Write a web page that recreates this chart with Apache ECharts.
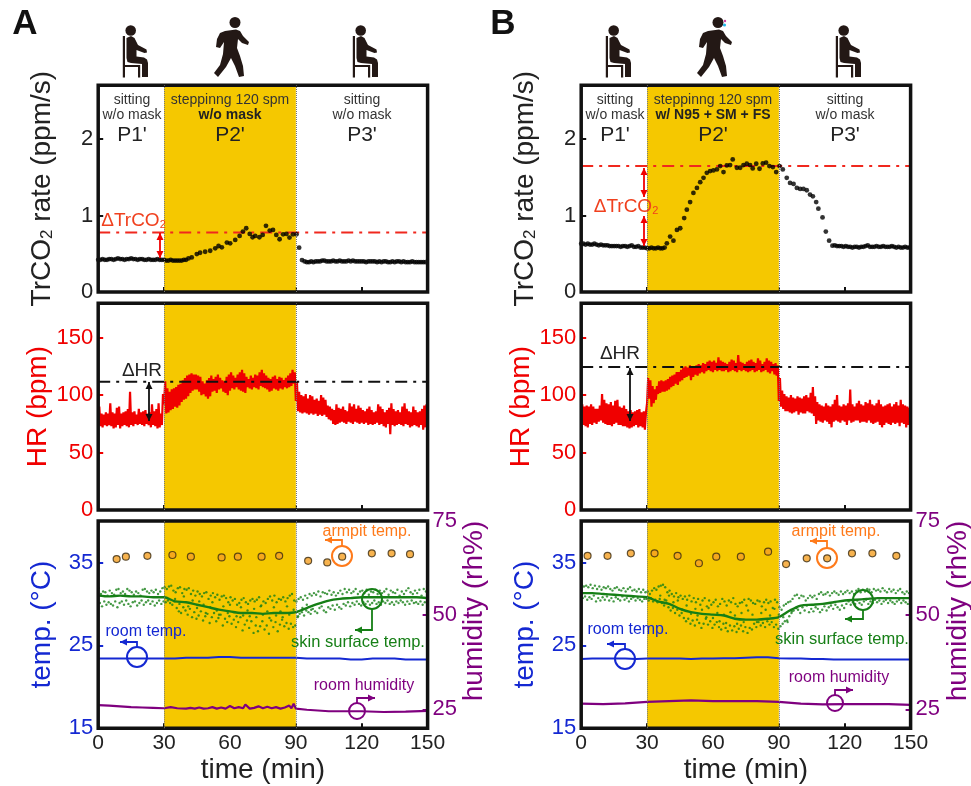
<!DOCTYPE html>
<html><head><meta charset="utf-8">
<style>html,body{margin:0;padding:0;background:#fff}#c{width:971px;height:786px}</style>
<script src="https://cdn.jsdelivr.net/npm/echarts@6/dist/echarts.min.js"></script>
</head><body><div id="c"></div>
<script>
// ---------- tick labels ----------
const timeTicks=[0,30,60,90,120,150];
const co2Ticks=[0,1,2];
const hrTicks=[0,50,100,150];
const tempTicks=[15,25,35];
const humTicks=[25,50,75];
// ---------- TrCO2 rate ----------
const co2StartA=[.42,.42,.43,.42,.42,.43,.43,.42,.43,.44,.43,.43,.42,.43,.43,.44,.43,.43,.42,.43,.43,.42,.42,.43,.42,.42,.42,.43,.42,.42,.42,.41,.41,.42,.41,.41,.41,.41,.41,.42,.42];
const co2MidA=[[41.1,.439],[42.6,.452],[44.9,.496],[46.4,.513],[48.7,.526],[51,.539],[53.3,.57],[54.8,.601],[56.3,.583],[58.6,.645],[60.1,.636],[62.4,.68],[64.4,.732],[65.9,.789],[67.4,.833],[69,.759],[70.3,.715],[71.5,.732],[73.4,.715],[74.9,.746],[76.4,.864],[78.1,.803],[79.6,.811],[81.1,.746],[82.6,.689],[84.2,.754],[85.7,.759],[87.1,.711],[88.7,.754],[90.3,.754],[91.5,.579],[92.8,.417]];
const co2EndA=[.40,.39,.39,.40,.39,.40,.40,.40,.41,.41,.40,.40,.40,.41,.40,.40,.41,.40,.40,.40,.41,.40,.41,.40,.40,.40,.40,.40,.39,.40,.40,.40,.40,.39,.40,.39,.40,.40,.39,.39,.40,.39,.40,.40,.39,.40,.39,.39,.39,.40,.39,.39,.39,.39,.39,.39];
const co2StartB=[.63,.63,.62,.63,.62,.62,.63,.62,.61,.62,.61,.61,.61,.60,.60,.60,.60,.60,.59,.60,.60,.59,.60,.61,.59,.59,.60,.58,.58,.58,.57,.57,.58,.57,.57,.58,.57,.57,.58];
const co2MidB=[[39,.636],[40.5,.724],[42,.671],[43.6,.811],[45.1,.833],[46.9,.965],[48.1,1.075],[49.6,1.175],[51.1,1.294],[52.7,1.36],[54.2,1.434],[55.7,1.491],[57.2,1.557],[58.7,1.579],[60.2,1.588],[61.8,1.601],[63.3,1.645],[64.8,1.566],[66.3,1.654],[67.8,1.658],[69,1.732],[70.9,1.623],[72.4,1.623],[73.9,1.658],[75.4,1.675],[76.9,1.658],[78.1,1.614],[79.7,1.675],[81.2,1.61],[82.7,1.68],[84.2,1.689],[85.7,1.645],[87.3,1.632],[88.8,1.566],[90.3,1.645],[91.8,1.601],[93.6,1.491],[95.1,1.425],[96.7,1.412],[98.2,1.36],[99.7,1.346],[101.2,1.346],[102.7,1.329],[104.2,1.272],[105.5,1.25],[107,1.175],[108,1.088],[109.9,.974],[111.4,.789],[112.9,.671],[114.4,.605]];
const co2EndB=[.61,.60,.60,.60,.59,.60,.59,.59,.58,.59,.59,.58,.59,.59,.60,.61,.59,.59,.59,.60,.59,.59,.60,.59,.59,.59,.60,.59,.58,.59,.58,.58,.59,.58,.58];
const co2Delta=[.776,1.645];
// ---------- heart rate: lowest and highest reading of each minute ----------
const hrHiA=[90,84,83,85,84,93,85,84,89,90,84,85,86,88,103,85,86,83,88,85,86,87,84,85,92,86,88,93,84,101,
112,106,103,105,106,107,109,110,113,115,117,118,119,118,118,
117,116,112,110,113,115,117,114,116,118,115,113,112,116,118,120,117,115,118,120,122,119,116,114,117,115,118,117,120,122,119,117,115,114,116,117,114,116,115,113,115,117,119,122,120,
112,103,100,99,101,97,100,99,96,97,95,100,98,96,91,90,88,87,92,89,88,90,87,86,93,90,92,88,91,89,87,86,88,90,87,85,86,92,90,88,85,87,89,93,88,86,87,85,90,93,88,86,85,90,87,85,86,88,91,92];
const hrLoA=[74,73,72,74,73,74,73,71,72,74,71,73,74,73,72,74,73,75,74,75,74,73,75,74,72,74,73,71,72,74,
92,84,85,87,88,90,89,91,94,96,97,99,102,104,105,
105,103,100,101,99,97,99,103,104,102,105,106,103,102,100,104,106,105,107,105,104,103,102,107,106,105,107,106,105,108,107,106,105,103,104,106,105,104,106,105,107,106,107,108,110,
95,86,85,84,85,84,83,84,83,84,82,83,82,83,81,79,78,75,74,75,76,77,76,75,77,76,75,77,76,75,76,75,76,74,75,74,75,76,74,75,73,72,75,66,74,73,74,75,74,73,75,74,72,73,74,73,72,74,70,72];
const hrHiB=[92,90,91,90,92,90,88,88,91,101,96,93,92,94,91,95,96,90,89,91,88,86,87,85,86,87,88,85,86,85,
115,113,108,105,108,112,113,112,113,114,116,117,118,120,120,
122,124,125,124,126,125,124,126,127,126,128,127,129,130,129,130,128,133,130,129,128,127,129,131,130,128,135,129,128,127,129,130,131,129,128,132,130,127,129,132,130,129,127,128,126,
115,104,101,99,98,100,98,97,99,98,97,99,100,98,102,107,99,94,92,91,90,93,91,90,92,96,100,91,90,92,91,93,105,92,90,93,95,92,91,94,93,96,92,91,93,96,92,90,91,92,93,90,92,94,91,96,92,91,90,89];
const hrLoB=[72,74,73,72,75,74,76,75,77,78,76,75,74,74,73,75,76,74,74,73,73,72,71,72,73,74,72,73,72,70,
93,97,90,93,96,101,102,103,103,104,105,107,108,110,109,
112,113,115,116,117,113,116,118,117,119,120,119,121,122,121,120,122,121,122,121,121,122,120,121,122,121,120,122,121,122,121,120,121,122,120,121,122,120,121,122,120,119,121,118,117,
95,90,88,86,86,85,84,85,86,83,85,84,84,86,85,84,82,75,78,77,76,78,77,75,72,77,78,77,76,78,77,74,78,76,77,78,78,76,77,77,76,78,76,75,76,77,74,72,74,76,75,74,76,75,76,73,76,75,72,74];
const hrDelta=[111.6,124.6];
// ---------- armpit temperature ----------
const armpitA=[[8.4,35.4],[12.6,35.7],[22.4,35.8],[33.8,35.9],[42.2,35.7],[56.2,35.6],[63.6,35.7],[74.4,35.7],[82.4,35.8],[95.6,35.2],[104.3,35],[111.1,35.7],[124.6,36.1],[133.6,36.1],[142,36]];
const armpitB=[[2.9,35.8],[12,35.8],[22.6,36.1],[33.4,36.1],[43.9,35.8],[53.6,34.9],[61.5,35.7],[72.7,35.7],[85.1,36.3],[93.3,34.8],[102.7,35.5],[112,35.5],[123.3,36.1],[132.6,36.1],[143.5,35.8]];
// ---------- skin surface temperature: scatter per minute, core every 5 min ----------
const skinHiA=[31.9,31.2,31.5,31.4,31,31.6,31.3,31.1,31.7,31.8,31.3,31.5,31.2,31.8,31.6,31.4,31.1,31.5,31.3,31,31.7,31.8,31.5,31.3,31.6,31.4,31.7,31.2,31.5,31.9,
32,31.8,32.1,32.2,31.6,31.4,31.9,32,31.3,31.8,31.7,31.9,31.2,31.6,31,31.5,31.2,30.9,31.3,31.4,30.6,31,31.3,30.8,31.1,30.5,30.9,31,30.7,30.2,
30.8,30.4,30.6,29.9,30.1,30.5,30.7,30.2,30,30.4,30.6,30.3,30.5,30.8,29.8,30.3,30.1,30.6,30.9,30.4,31,30.2,30.6,30.5,30.8,30.3,30.7,31,31.2,30.4,
30.3,30.6,30.8,30.5,31,30.7,31.2,31,31.3,31.1,31.5,30.9,31.4,31.3,31.2,31.6,31.1,31.4,31,31.3,31.6,31.2,31.8,31.4,31.7,31.3,31.5,31.8,31.2,31.5,
31.6,31.3,31.7,31.1,31.5,31.4,31.7,31.2,31.6,31.3,31.5,31.8,31.1,31.6,31.4,31.3,31.7,31,31.5,31.2,31.6,31.9,31.4,31.2,31.6,31.3,31.7,31,31.8,31.5];
const skinLoA=[30.1,29.7,30.3,29.9,30.2,30,29.8,30.3,29.6,30.1,30.3,29.9,30.4,30,29.7,30.2,30.3,29.8,30.1,30.4,29.9,30.2,30.4,30,30.3,29.8,30.1,30.4,30,30.3,
30.2,30.4,30.1,29.9,30.3,29.5,29.1,28.9,29.6,29.2,28.7,29.4,28.4,29,28.2,28.6,29.1,28,28.5,28.8,27.7,28.4,28.9,27.9,28.3,28.7,27.4,28.2,27.8,28.5,
27.6,28.1,27.2,27.8,28.4,26.8,27.5,28,27.1,27.9,26.5,27.4,26.7,27.3,27.9,26.9,27.4,26.4,28,27.2,27.8,26.7,27.5,28.1,27.3,27.7,27,27.6,27.2,27.4,
28.4,28.8,29,28.6,29.2,29,28.8,29.4,29.1,28.9,29.5,29.7,29.2,29,29.6,29.4,29.8,29.3,29.9,29.6,29.4,30,29.8,30.2,29.7,30.1,29.9,30.3,30,29.8,
30.2,30,30.3,29.9,30.1,30.4,30,30.2,29.9,30.3,30.1,30.4,30,30.2,29.9,30.3,30.1,30.4,30.2,29.9,30.3,30,30.4,30.1,30.2,30,30.3,29.9,30.2,30.1];
const skinMidA=[[35,30.6],[37,30],[39,30.9],[41,29.7],[43,30.4],[45,29.5],[46,30.3],[48,29.9],[49,28.9],[51,29.6],[52,30.2],[54,29.2],[55,28.7],[57,29.7],[59,28.9],[60,29.9],[62,29],[63,28.5],[65,29.6],[66,28.6],[68,29.2],[69,28.5],[71,29.4],[72,28.4],[74,29.7],[75,28.7],[77,29.1],[78,28.3],[80,29.6],[81,28.6],[83,29.1],[84,28.4],[86,29.7],[87,28.7],[89,29.3],[91,28.5],[93,29.5],[95,29.9],[97,29.3]];
const skinCoreA=[31,30.9,31,30.9,30.9,30.8,30.8,30.3,30.2,29.9,29.6,29.3,29.1,28.9,28.9,28.8,28.9,28.9,29,29.5,30,30.4,30.6,30.7,30.8,30.8,30.8,30.8,30.8,30.8,30.7];
const skinHiB=[32.3,32.1,32.2,32,32.3,31.9,32.2,31.8,32.1,31.7,32,31.9,32.1,31.8,31.6,31.9,32,31.7,31.6,31.9,31.5,31.8,32,31.6,31.7,31.5,31.8,31.4,31.7,31.4,
31.5,31.2,31.6,31.9,31.7,32.1,32.2,32.3,32,31.4,31.6,31.2,30.9,31.3,30.8,31,30.6,30.9,30.5,31,30.3,30.7,30.2,30.6,29.9,30.4,30.7,29.7,30.4,29.9,
30.2,30.5,29.7,30,30.6,30.3,29.8,30.4,30.2,30.7,30,29.7,30.1,30.2,30.5,29.8,30.6,30.4,30.1,30,30.4,30.3,29.7,30.2,30.5,30.1,30.3,29.5,30.5,30.2,
29.6,29.3,29.8,30,30.2,30.3,30.6,31,31.1,30.7,31,30.9,30.4,30.7,31,30.8,31,30.6,31.2,31.4,31.1,31.2,31.4,31,31.3,31.5,31.3,31.1,31.5,31.2,
31.4,31.6,31.3,31.5,31.2,31.6,31.8,31.4,31.7,31.5,31.8,31.7,31.4,31.8,31.6,31.7,31.5,31.9,31.6,31.4,31.8,31.5,31.7,31.3,31.6,31.8,31.4,31.2,31.5,31.3];
const skinLoB=[30.7,30.9,30.5,30.8,30.6,31,30.3,30.7,30.4,30.8,30.5,30.9,30.4,30.7,30.3,30.8,30.6,30.4,30.9,30.5,30.7,30.3,30.6,30.8,30.4,30.7,30.5,30.3,30.6,30.6,
30.4,30.7,30.3,30.5,30.2,30.6,30.1,29.8,30.4,29.6,29.2,29.5,28.9,29.3,28.6,28.9,28.3,27.9,28.2,27.6,28,27.4,28.1,27.7,27.1,27.6,28.2,27.5,27.9,27.1,
27.5,27.8,27.2,26.9,27.6,27.1,26.7,27.4,26.8,27.3,26.6,27,27.4,26.7,27.2,26.5,27.1,26.9,27.6,27.2,27.8,27.4,27.7,27.2,27.9,27.5,27.8,27.2,27.5,27,
27.3,27.6,27.9,28,28.5,28.9,29.2,29.5,29.3,28.9,29.6,29.2,29.8,29,29.4,29.1,29.6,29.4,29,29.3,29.7,29.2,29.6,29.8,29.4,29.9,29.6,29.3,29.8,29.5,
30,30.3,29.9,30.2,30,30.4,30.1,29.9,30.3,30.5,30,30.3,30.1,30.5,30.2,30.4,30,30.3,30.5,30.1,30.4,30.2,30,30.3,30.5,30.1,30.4,30.2,30,30.3];
const skinMidB=[[36,31],[38,30.5],[40,31],[42,30.2],[44,30.4],[46,29.3],[48,29.8],[50,28.8],[52,29.4],[53,28.6],[55,29.3],[57,28.4],[58,29.5],[60,28.3],[62,28.9],[63,27.9],[65,28.7],[66,27.7],[68,29],[70,28.6],[71,27.6],[73,28.9],[74,27.8],[76,29.2],[78,28.7],[80,27.8],[82,28.9],[84,29.3],[86,28.6],[88,29.4],[90,28.7],[92,28.4],[94,27.8],[96,29.1],[98,29.5]];
const skinCoreB=[31.3,31.3,31.2,31.1,31,30.9,30.8,30.3,30,29.4,29,28.8,28.7,28.6,28.2,28.1,28.1,28.2,28.4,29.2,29.8,29.9,30,30.2,30.4,30.5,30.6,30.7,30.7,30.7,30.7];
// ---------- room temperature, every 5 min ----------
const roomTempA=[23.4,23.4,23.4,23.4,23.4,23.4,23.4,23.4,23.5,23.5,23.5,23.6,23.6,23.5,23.5,23.5,23.5,23.5,23.5,23.4,23.4,23.4,23.4,23.3,23.3,23.4,23.4,23.4,23.3,23.3,23.3];
const roomTempB=[23.35,23.4,23.4,23.4,23.4,23.35,23.4,23.4,23.4,23.4,23.35,23.4,23.4,23.45,23.45,23.5,23.55,23.55,23.45,23.4,23.4,23.35,23.35,23.3,23.3,23.3,23.3,23.3,23.3,23.3,23.3];
// ---------- room humidity ----------
const roomHumA=[[0,26.1],[5,26],[10,25.8],[15,25.6],[20,25.5],[25,25.4],[30,25.3],[33,25.6],[36,25.3],[40,25.2],[42,25.4],[44,25.2],[46,25.5],[48,25.2],[50,25.3],[52,25.6],[54,25.2],[56,25.5],[58,25.2],[60,25.9],[62,25.3],[64,25.6],[66,25.3],[67,26.3],[69,25.2],[71,25.4],[73,25.8],[75,25.3],[77,25.7],[79,25.3],[81,25.6],[83,25.2],[85,25.5],[87,26],[88,25.3],[89,26.5],[90,25.2],[95,24.9],[100,24.7],[105,24.5],[110,24.5],[115,24.5],[120,24.5],[130,24.3],[140,24.4],[150,24.6]];
const roomHumB=[[0,26.5],[10,26.4],[20,26.6],[30,27],[40,27.2],[50,27.4],[60,27.2],[70,27.2],[80,27.2],[90,27],[100,26.5],[110,26.3],[120,26.4],[130,26.4],[140,26.4],[150,26.2]];
// ---------- text ----------
const conditionB='w/ N95 + SM + FS', conditionA='w/o mask';
const letters=['A','B'];

const FONT='"Liberation Sans",Arial,sans-serif';
const RED='#f00000',BLUE='#1428d2',PURPLE='#7f007f',GREEN='#167f16',ORANGE='#ff7a1a',YEL='#f5c800',DARK='#231815';
const gridX=[98.2,581.2],gridW=329.4,gridY=[85.3,303.3,521],gridH=[206.7,206.7,207.2];
const minutes=(v,start=0)=>v.map((y,i)=>[start+i,y]);
const zig=(lo,hi)=>lo.flatMap((y,i)=>[[i,y],[i+.5,hi[i]]]);
const dots=(lo,hi)=>lo.flatMap((y,i)=>[[i+.25,hi[i]],[i+.75,y]]);
const five=v=>v.map((y,i)=>[i*5,y]);

const grid=[],xAxis=[],yAxis=[],series=[];
const tickX=(g,show,name)=>({type:'value',gridIndex:g,min:0,max:150,
  axisLine:{show:false},splitLine:{show:false},
  axisTick:{inside:true,length:5,lineStyle:{color:'#111',width:2},customValues:timeTicks},
  axisLabel:{show:show,customValues:timeTicks,color:'#222',fontSize:21,fontFamily:FONT,margin:5,hideOverlap:false},
  name:name||'',nameLocation:'middle',nameGap:28,nameMoveOverlap:false,nameTextStyle:{fontSize:28,fontFamily:FONT,color:'#222'}});
const tickY=(g,min,max,ticks,color,name,gap,pos,rich)=>({type:'value',gridIndex:g,min,max,position:pos||'left',
  axisLine:{show:false},splitLine:{show:false},
  axisTick:{inside:true,length:5,lineStyle:{color:color==='#222'?'#111':color,width:2},customValues:ticks},
  axisLabel:{customValues:ticks,color,fontSize:22,fontFamily:FONT,margin:5,hideOverlap:false,padding:[4,0,0,0]},
  name:name||'',nameLocation:'middle',nameGap:gap||0,nameRotate:90,
  nameTextStyle:{fontSize:28,fontFamily:FONT,color,rich:rich||{}}});
const rich={s:{fontSize:17,fontFamily:FONT,color:'#222',verticalAlign:'bottom'},n:{fontSize:28,fontFamily:FONT,color:'#222'}};

[0,1].forEach(p=>{
  const g0=p*3,y0=p*4;
  [0,1,2].forEach(r=>{
    grid.push({left:gridX[p],top:gridY[r],width:gridW,height:gridH[r],outerBoundsMode:'none',show:true,z:5,borderColor:'#111',borderWidth:3.5,backgroundColor:'transparent'});
    xAxis.push(tickX(g0+r,r===2,r===2?'time (min)':''));
  });
  yAxis.push(tickY(g0,0,2.7,co2Ticks,'#222','{n|TrCO}{s|2}{n| rate (ppm/s)}',42,'left',rich));
  yAxis.push(tickY(g0+1,0,180,hrTicks,RED,'HR (bpm)',43));
  yAxis.push(tickY(g0+2,15,40,tempTicks,BLUE,'temp. (°C)',42));
  yAxis.push(tickY(g0+2,20,75,humTicks,PURPLE,'',0,'right'));
  // shaded stepping period with dotted edges
  [[g0,y0],[g0+1,y0+1],[g0+2,y0+2]].forEach(([gi,yi])=>{
    series.push({type:'line',xAxisIndex:gi,yAxisIndex:yi,data:[],z:1,silent:true,
      markArea:{silent:true,itemStyle:{color:YEL},data:[[{xAxis:30},{xAxis:90}]]},
      markLine:{silent:true,symbol:'none',label:{show:false},lineStyle:{color:'#777',type:[1,1],width:1},data:[{xAxis:30},{xAxis:90}]}});
  });
  const dash=[12,6,3,6];
  const co2=p?[...minutes(co2StartB),...co2MidB,...minutes(co2EndB,115.5)]:[...minutes(co2StartA),...co2MidA,...minutes(co2EndA,94)];
  series.push({type:'line',xAxisIndex:g0,yAxisIndex:y0,data:[[0,co2Delta[p]],[150,co2Delta[p]]],showSymbol:false,symbol:'none',z:3,lineStyle:{color:'#f0281e',width:2,type:dash}});
  series.push({type:'scatter',xAxisIndex:g0,yAxisIndex:y0,data:co2,symbolSize:4.8,itemStyle:{color:'#000'},z:4});
  series.push({type:'line',xAxisIndex:g0+1,yAxisIndex:y0+1,data:p?zig(hrLoB,hrHiB):zig(hrLoA,hrHiA),showSymbol:false,symbol:'none',z:3,lineStyle:{color:RED,width:2.2}});
  series.push({type:'line',xAxisIndex:g0+1,yAxisIndex:y0+1,data:[[0,hrDelta[p]],[150,hrDelta[p]]],symbol:'none',z:4,lineStyle:{color:'#111',width:2,type:dash}});
  series.push({type:'scatter',xAxisIndex:g0+2,yAxisIndex:y0+2,data:p?armpitB:armpitA,symbolSize:7,itemStyle:{color:'#f5a023',borderColor:'#3a2a10',borderWidth:1.2},z:4});
  series.push({type:'scatter',xAxisIndex:g0+2,yAxisIndex:y0+2,data:[...(p?dots(skinLoB,skinHiB):dots(skinLoA,skinHiA)),...(p?skinMidB:skinMidA)],symbolSize:2.4,itemStyle:{color:GREEN},z:3});
  series.push({type:'line',xAxisIndex:g0+2,yAxisIndex:y0+2,data:five(p?skinCoreB:skinCoreA),symbol:'none',smooth:.3,z:3,lineStyle:{color:GREEN,width:2.4}});
  series.push({type:'line',xAxisIndex:g0+2,yAxisIndex:y0+2,data:five(p?roomTempB:roomTempA),symbol:'none',z:3,lineStyle:{color:BLUE,width:2}});
  series.push({type:'line',xAxisIndex:g0+2,yAxisIndex:y0+3,data:p?roomHumB:roomHumA,symbol:'none',z:3,lineStyle:{color:PURPLE,width:2.2}});
});

// ---------- decoration: text, icons, arrows, ring callouts ----------
const gfx=[];
const T=(text,x,y,fontSize,fill,extra)=>gfx.push({type:'text',z:20,x,y,style:Object.assign({text,fontSize,fontFamily:FONT,fill,align:'center',verticalAlign:'middle'},extra||{})});
const head=(x0,x1,y0,y1,c,w)=>{const a=Math.atan2(y1-y0,x1-x0),L=7,W=3.5;
  gfx.push({type:'polygon',z:20,shape:{points:[[x1,y1],[x1-L*Math.cos(a)-W*Math.sin(a),y1-L*Math.sin(a)+W*Math.cos(a)],[x1-L*Math.cos(a)+W*Math.sin(a),y1-L*Math.sin(a)-W*Math.cos(a)]]},style:{fill:c}});};
const callout=(cx,cy,r,pts,c)=>{
  gfx.push({type:'circle',z:20,shape:{cx,cy,r},style:{fill:'none',stroke:c,lineWidth:2}});
  gfx.push({type:'polyline',z:20,shape:{points:pts},style:{fill:'none',stroke:c,lineWidth:1.8}});
  const a=pts[pts.length-2],b=pts[pts.length-1];head(a[0],b[0],a[1],b[1],c);};
const dbl=(x,y0,y1,c)=>{gfx.push({type:'line',z:20,shape:{x1:x,y1:y0,x2:x,y2:y1},style:{stroke:c,lineWidth:1.8}});head(x,x,y1,y0,c);head(x,x,y0,y1,c);};
const poly=(dx,pts)=>gfx.push({type:'polygon',z:20,shape:{points:pts.map(q=>[q[0]+dx,q[1]])},style:{fill:DARK}});
const sit=(dx)=>{
  gfx.push({type:'circle',z:20,shape:{cx:130.7+dx,cy:30.5,r:5.3},style:{fill:DARK}});
  poly(dx,[[122.8,36],[122.8,77.5],[125,77.5],[125,67],[138,67],[138,77.5],[140.2,77.5],[140.2,65],[125,65],[125,36]]);
  poly(dx,[[126.5,38],[131,36],[134.5,38],[138,45],[146.5,49.5],[147,52.5],[144.5,53],[136.5,50],[136.5,56.5],[144,57.5],[147,59.5],[148,63],[148,77],[142,77],[142,64],[131,63],[127.5,62],[126.5,58]]);
};
const walk=(dx)=>{
  gfx.push({type:'circle',z:20,shape:{cx:235+dx,cy:22.5,r:5.5},style:{fill:DARK}});
  poly(dx,[[225,31],[236,29.5],[240,31],[243,36],[249,42],[248,45],[242,43],[238,39],[237,48],[240,56],[243,66],[244,76],[239,77],[235,66],[231,58],[226,67],[218,77],[214,73],[220,65],[223,54],[224,42],[220,48],[216,47],[217,39],[220,33]]);
};
const OFF=483;
[0,1].forEach(p=>{
  const dx=p*OFF;
  T(letters[p],p?503:25,24,35,'#111',{fontWeight:'bold'});
  sit(dx);walk(dx);sit(dx+230);
  T('sitting',132+dx,100.5,14,'#333');T('w/o mask',132+dx,115,14,'#333');T("P1'",132+dx,135,21,'#222');
  T('steppinng 120 spm',230+dx,100.5,14,'#333');T(p?conditionB:conditionA,230+dx,115,14,'#222',{fontWeight:'bold'});T("P2'",230+dx,135,21,'#222');
  T('sitting',362+dx,100.5,14,'#333');T('w/o mask',362+dx,115,14,'#333');T("P3'",362+dx,135,21,'#222');
  T('humidity (rh%)',0,0,28,PURPLE,{});
  Object.assign(gfx[gfx.length-1],{x:p?958:474,y:611,rotation:Math.PI/2});
});
gfx.push({type:'circle',z:20,shape:{cx:724.5,cy:25,r:1.6},style:{fill:'#20b8e8'}},{type:'circle',z:20,shape:{cx:725,cy:21,r:1.2},style:{fill:'#d040a0'}});
const deltaRich={rich:{s:{fontSize:11,fontFamily:FONT,fill:'#f0401e',verticalAlign:'bottom'},b:{fontSize:19,fontFamily:FONT,fill:'#f0401e'}}};
T('{b|ΔTrCO}{s|2}',133.5,221,19,'#f0401e',deltaRich);
T('{b|ΔTrCO}{s|2}',626,207,19,'#f0401e',deltaRich);
dbl(160,233,258,'#f00000');
dbl(644,168,197,'#f00000');dbl(644,216,246,'#f00000');
T('ΔHR',142,371,19,'#222');T('ΔHR',620,354,19,'#222');
dbl(149,382,421,'#111');dbl(630,368,421,'#111');
// panel A callouts
T('armpit temp.',367,532,16,ORANGE);callout(342,556,10,[[342,546],[342,540],[325,540]],ORANGE);
T('skin surface temp.',358,642,16.5,GREEN);callout(372,599,10,[[372,609],[372,630],[355,630]],GREEN);
T('room temp.',146,632,16,BLUE);callout(137,657,10,[[137,647],[137,642],[120,642]],BLUE);
T('room humidity',364,686,16,PURPLE);callout(357,711,8,[[357,703],[357,698],[375,698]],PURPLE);
// panel B callouts
T('armpit temp.',836,532,16,ORANGE);callout(827,558,10,[[827,548],[827,541],[810,541]],ORANGE);
T('skin surface temp.',842,639,16.5,GREEN);callout(863,600,10,[[863,610],[863,619],[845,619]],GREEN);
T('room temp.',628,630,16,BLUE);callout(625,659,10,[[625,649],[625,644],[607,644]],BLUE);
T('room humidity',839,678,16,PURPLE);callout(835,703,8,[[835,695],[835,690],[853,690]],PURPLE);

const chart=echarts.init(document.getElementById('c'),null,{renderer:'canvas'});
chart.setOption({animation:false,backgroundColor:'#fff',grid,xAxis,yAxis,series,graphic:gfx});
</script></body></html>
